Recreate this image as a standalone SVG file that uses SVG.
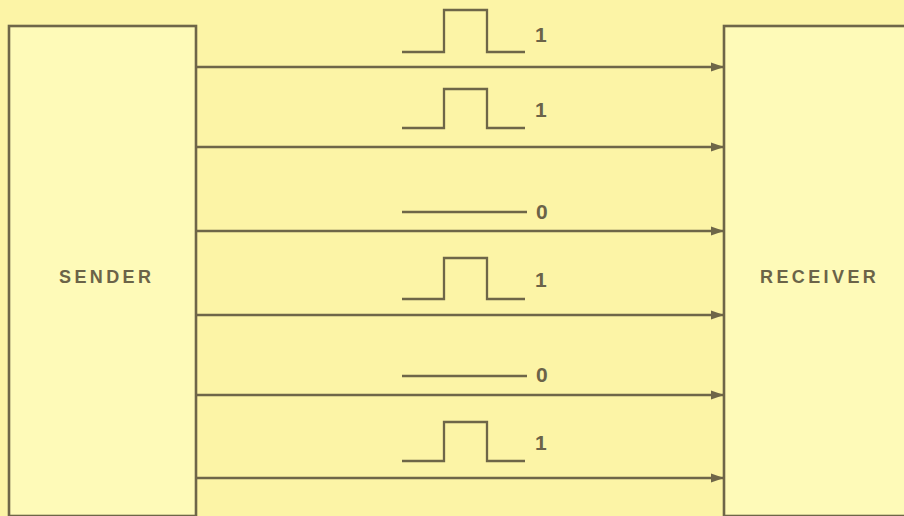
<svg xmlns="http://www.w3.org/2000/svg" width="904" height="516" viewBox="0 0 904 516">
  <style>
    .box { fill: #fefab8; stroke: #6e6648; stroke-width: 2.6; }
    .conn { stroke: #6e6648; stroke-width: 2.3; fill: none; }
    .wave { stroke: #6e6648; stroke-width: 2.3; fill: none; stroke-linejoin: miter; }
    .lbl { font-family: "Liberation Sans", Arial, sans-serif; font-weight: bold; fill: #6b6348; }
    .name { font-size: 18px; letter-spacing: 3.4px; }
    .bit { font-size: 21px; }
  </style>
  <defs>
    <marker id="arr" markerUnits="userSpaceOnUse" markerWidth="14" markerHeight="10" refX="13" refY="5" orient="auto">
      <path d="M0,0.5 L13,5 L0,9.5 Z" fill="#6e6648"/>
    </marker>
  </defs>
  <rect width="904" height="516" fill="#fcf4a6"/>
  <g id="sender">
    <rect class="box" x="9" y="26" width="187" height="490"/>
    <text class="lbl name" x="59" y="283">SENDER</text>
  </g>
  <g id="receiver">
    <rect class="box" x="724" y="26" width="190" height="490"/>
    <text class="lbl name" x="760" y="283">RECEIVER</text>
  </g>
  <g id="connectors">
    <line class="conn" x1="196" y1="67" x2="724" y2="67" marker-end="url(#arr)"/>
    <line class="conn" x1="196" y1="147" x2="724" y2="147" marker-end="url(#arr)"/>
    <line class="conn" x1="196" y1="231" x2="724" y2="231" marker-end="url(#arr)"/>
    <line class="conn" x1="196" y1="315" x2="724" y2="315" marker-end="url(#arr)"/>
    <line class="conn" x1="196" y1="395" x2="724" y2="395" marker-end="url(#arr)"/>
    <line class="conn" x1="196" y1="478" x2="724" y2="478" marker-end="url(#arr)"/>
  </g>
  <g id="signals">
    <path class="wave" d="M402,52 H444 V10 H487 V52 H525"/>
    <text class="lbl bit" x="535" y="42">1</text>
    <path class="wave" d="M402,128 H444 V89 H487 V128 H525"/>
    <text class="lbl bit" x="535" y="117">1</text>
    <path class="wave" d="M402,212 H527"/>
    <text class="lbl bit" x="536" y="219">0</text>
    <path class="wave" d="M402,299 H444 V258 H487 V299 H525"/>
    <text class="lbl bit" x="535" y="287">1</text>
    <path class="wave" d="M402,376 H527"/>
    <text class="lbl bit" x="536" y="382">0</text>
    <path class="wave" d="M402,461 H444 V422 H487 V461 H525"/>
    <text class="lbl bit" x="535" y="450">1</text>
  </g>
</svg>
